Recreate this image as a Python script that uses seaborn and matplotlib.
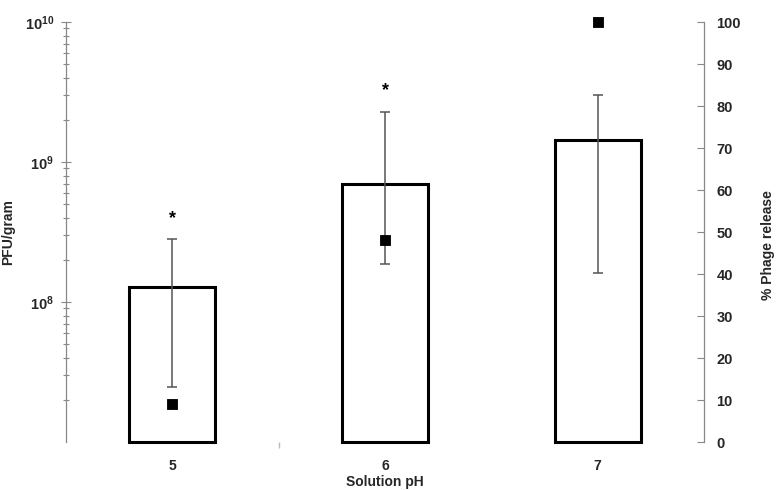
import numpy as np
import pandas as pd
import matplotlib
matplotlib.use("Agg")
import matplotlib.pyplot as plt
import seaborn as sns
from matplotlib.ticker import FixedLocator, NullFormatter

# ---- data ----
ph_levels = ["5", "6", "7"]
pfu_per_gram = [1.28e8, 6.96e8, 1.44e9]          # bar heights (left, log axis)
pfu_err_low = [2.47e7, 1.87e8, 1.61e8]           # lower end of error bar
pfu_err_high = [2.80e8, 2.28e9, 3.01e9]          # upper end of error bar
phage_release_pct = [9, 48, 100]                 # squares (right axis)
significant = [True, True, False]                # asterisks
left_ticks = [1e8, 1e9, 1e10]
left_tick_labels = [r"$\mathbf{10^{8}}$", r"$\mathbf{10^{9}}$", r"$\mathbf{10^{10}}$"]
right_ticks = [0, 10, 20, 30, 40, 50, 60, 70, 80, 90, 100]

sns.set_theme(style="white")
plt.rcParams["font.family"] = ["Liberation Sans", "DejaVu Sans"]
plt.rcParams["font.weight"] = "bold"
plt.rcParams["mathtext.fontset"] = "custom"
plt.rcParams["mathtext.bf"] = "Liberation Sans:bold"
plt.rcParams["mathtext.rm"] = "Liberation Sans:bold"

df = pd.DataFrame({"pH": ph_levels, "pfu": pfu_per_gram})

fig = plt.figure(figsize=(7.79, 4.90), dpi=100)
ax = fig.add_axes([66/779, 1-442/490, (704-66)/779, (442-22)/490])

y_bottom = 1e7
sns.barplot(data=df, x="pH", y="pfu", ax=ax, color="white", edgecolor="black",
            linewidth=2.2, width=0.405, errorbar=None)
ax.set_yscale("log")
ax.set_ylim(y_bottom, 1e10)
ax.set_xlim(-0.5, 2.5)
# bars start at the axis floor so their bottom edge shows on the log scale
for p in ax.patches:
    top = p.get_y() + p.get_height()
    p.set_y(y_bottom)
    p.set_height(top - y_bottom)
    p.set_clip_on(False)

xpos = np.arange(len(ph_levels))
h = np.array(pfu_per_gram)
yerr = np.vstack([h - np.array(pfu_err_low), np.array(pfu_err_high) - h])
ax.errorbar(xpos, h, yerr=yerr, fmt="none", ecolor="#555555", elinewidth=1.1,
            capsize=3.5, capthick=1.1, zorder=3)

for x, top, sig in zip(xpos, pfu_err_high, significant):
    if sig:
        ax.annotate("*", xy=(x, top), xytext=(0, 15), textcoords="offset points",
                    ha="center", va="center", fontsize=13, fontweight="bold",
                    color="black")

# left axis styling
ax.set_yticks(left_ticks)
ax.set_yticklabels(left_tick_labels)
ax.yaxis.set_minor_locator(FixedLocator([m * 10**e for e in (7, 8, 9) for m in range(2, 10)]))
ax.yaxis.set_minor_formatter(NullFormatter())
ax.tick_params(axis="y", which="major", left=True, direction="inout", length=7,
               width=0.8, color="#888888", labelsize=10.5, pad=5)
ax.tick_params(axis="y", which="minor", left=True, direction="inout", length=5,
               width=0.8, color="#888888")
ax.set_xticks(xpos)
ax.set_xticklabels(ph_levels, fontsize=10, fontweight="bold")
ax.xaxis.set_minor_locator(FixedLocator([0.5]))
ax.tick_params(axis="x", which="major", bottom=False, pad=6)
ax.tick_params(axis="x", which="minor", bottom=True, direction="out", length=4,
               width=1.0, color="#bbbbbb")
for s in ["top", "right", "bottom"]:
    ax.spines[s].set_visible(False)
ax.spines["left"].set_color("#888888")
ax.spines["left"].set_linewidth(0.9)

ax.set_xlabel("Solution pH", fontsize=10, fontweight="bold", labelpad=2)
ax.set_ylabel("PFU/gram", fontsize=10, fontweight="bold")
ax.yaxis.set_label_coords(-0.08, 0.5)

# right axis
ax2 = ax.twinx()
sns.scatterplot(x=xpos, y=phage_release_pct, ax=ax2, marker="s", s=60,
                color="black", edgecolor="black", zorder=4, clip_on=False)
ax2.set_ylim(0, 100)
ax2.set_xlim(-0.5, 2.5)
ax2.set_yticks(right_ticks)
ax2.set_yticklabels([str(t) for t in right_ticks], fontsize=10.5, fontweight="bold")
ax2.tick_params(axis="y", right=True, direction="in", length=5, width=0.8,
                color="#888888", pad=9)
for s in ["top", "left", "bottom"]:
    ax2.spines[s].set_visible(False)
ax2.spines["right"].set_color("#888888")
ax2.spines["right"].set_linewidth(0.9)
ax2.set_ylabel("% Phage release", fontsize=10, fontweight="bold", rotation=90)
ax2.yaxis.set_label_coords(1.09, 0.47)
ax2.grid(False)
ax.grid(False)

fig.savefig("out.png", dpi=100)
